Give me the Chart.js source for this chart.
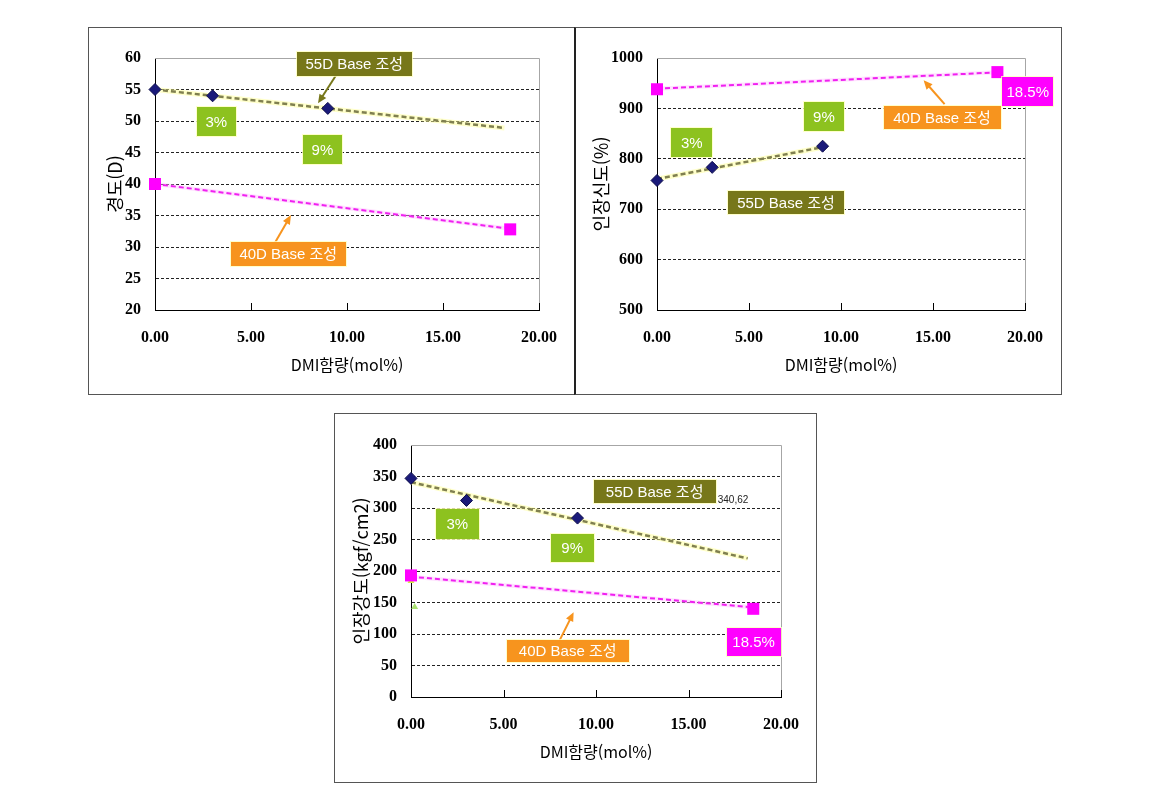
<!DOCTYPE html>
<html lang="ko">
<head>
  <meta charset="UTF-8" />
  <title>DMI 함량에 따른 물성 변화</title>
  <script src="https://cdn.jsdelivr.net/npm/chart.js"></script>
  <style>
    * {
      margin: 0;
      padding: 0;
      box-sizing: border-box;
    }

    body {
      width: 1154px;
      height: 796px;
      background: #fff;
      position: relative;
      overflow: hidden;
    }

    .panel {
      position: absolute;
      border: 1px solid #555;
      background: #fff;
    }

    canvas {
      position: absolute;
    }

    #p1 { left: 88px; top: 27px; width: 487px; height: 368px; }
    #p2 { left: 574px; top: 27px; width: 488px; height: 368px; border-left: 2px solid #222; }
    #p3 { left: 334px; top: 413px; width: 483px; height: 370px; }

    #hardChart { left: 88px; top: 27px; }
    #elongChart { left: 574px; top: 27px; }
    #tensChart { left: 334px; top: 413px; }
  </style>
</head>
<body>
  <div class="panel" id="p1"></div>
  <div class="panel" id="p2"></div>
  <div class="panel" id="p3"></div>

  <canvas id="hardChart" width="487" height="368"></canvas>
  <canvas id="elongChart" width="487" height="368"></canvas>
  <canvas id="tensChart" width="483" height="369"></canvas>

  <script>
    // DMI content (mol%)
    const dmi55 = [0, 3, 9];
    const dmi40 = [0, 18.5];
    const xTicks = [0, 5, 10, 15, 20];

    // hardness (D)
    const hard55 = [55, 54, 52];
    const hard40 = [40, 32.8];
    const hardTrendX = [0, 18.2];
    const hard55Trend = [55, 48.9];
    const hard40Trend = [40, 33];

    // elongation (%)
    const elong55 = [757, 783, 825];
    const elong40 = [938, 972];
    const elong55TrendX = [0, 9];
    const elong55Trend = [760, 823];
    const elong40TrendX = [0, 18.2];
    const elong40Trend = [939, 971];

    // tensile strength (kgf/cm2)
    const tens55 = [347, 312, 284];
    const tens40 = [193, 140];
    const tensTrendX = [0, 18.2];
    const tens55Trend = [341, 220];
    const tens40Trend = [191, 143];
    const tensStrayX = [0, 0.2];
    const tensStray = [184, 143];

    const pts = (xs, ys) => xs.map((v, i) => ({ x: v, y: ys[i] }));

    const OLIVE = '#77771a';
    const LIME = '#8dc21f';
    const ORANGE = '#f7941e';
    const PINK = '#ff00ff';
    const NAVY = '#1a1a7a';

    const labelFont = '15px "Liberation Sans", "Noto Sans CJK KR", sans-serif';
    const pctFont = '15px "Liberation Sans", "Noto Sans CJK KR", sans-serif';

    // frame (top/right grey) and the small inward x ticks
    const framePlugin = {
      id: 'frame',
      beforeDatasetsDraw(chart) {
        const { ctx, chartArea: a, scales: { x } } = chart;
        ctx.save();
        ctx.strokeStyle = '#a6a6a6';
        ctx.lineWidth = 1;
        ctx.beginPath();
        ctx.moveTo(a.left, Math.round(a.top) + 0.5);
        ctx.lineTo(Math.round(a.right) + 0.5, Math.round(a.top) + 0.5);
        ctx.lineTo(Math.round(a.right) + 0.5, a.bottom);
        ctx.stroke();
        ctx.strokeStyle = '#000';
        ctx.beginPath();
        x.ticks.forEach(t => {
          if (t.value === 0) return;
          const px = Math.round(x.getPixelForValue(t.value)) + 0.5;
          ctx.moveTo(px, a.bottom);
          ctx.lineTo(px, a.bottom - 7);
        });
        ctx.stroke();
        ctx.restore();
      }
    };

    // callout boxes, arrows and loose text
    const notesPlugin = {
      id: 'notes',
      afterDraw(chart, args, opts) {
        const { ctx, scales: { x, y } } = chart;
        ctx.save();
        (opts.arrows || []).forEach(r => {
          const x1 = x.getPixelForValue(r.from[0]), y1 = y.getPixelForValue(r.from[1]);
          const x2 = x.getPixelForValue(r.to[0]), y2 = y.getPixelForValue(r.to[1]);
          const ang = Math.atan2(y2 - y1, x2 - x1);
          ctx.strokeStyle = r.color;
          ctx.fillStyle = r.color;
          ctx.lineWidth = 2;
          ctx.beginPath();
          ctx.moveTo(x1, y1);
          ctx.lineTo(x2 - 6 * Math.cos(ang), y2 - 6 * Math.sin(ang));
          ctx.stroke();
          ctx.beginPath();
          ctx.moveTo(x2, y2);
          ctx.lineTo(x2 - 9 * Math.cos(ang) + 4 * Math.sin(ang), y2 - 9 * Math.sin(ang) - 4 * Math.cos(ang));
          ctx.lineTo(x2 - 9 * Math.cos(ang) - 4 * Math.sin(ang), y2 - 9 * Math.sin(ang) + 4 * Math.cos(ang));
          ctx.closePath();
          ctx.fill();
        });
        (opts.boxes || []).forEach(b => {
          const cx = x.getPixelForValue(b.x), cy = y.getPixelForValue(b.y);
          const l = Math.round(cx - b.w / 2), t = Math.round(cy - b.h / 2);
          ctx.fillStyle = 'rgba(255,255,190,0.8)';
          ctx.fillRect(l - 1, t - 1, b.w + 2, b.h + 2);
          ctx.fillStyle = b.bg;
          ctx.fillRect(l, t, b.w, b.h);
          ctx.fillStyle = '#fff';
          ctx.font = b.font;
          ctx.textAlign = 'center';
          ctx.textBaseline = 'middle';
          ctx.fillText(b.text, cx, cy + 1);
        });
        (opts.texts || []).forEach(s => {
          ctx.fillStyle = '#222';
          ctx.font = '10px "Liberation Sans", sans-serif';
          ctx.textAlign = 'left';
          ctx.textBaseline = 'middle';
          ctx.fillText(s.text, x.getPixelForValue(s.x), y.getPixelForValue(s.y));
        });
        ctx.restore();
      }
    };

    function datasets(p55, p40, t55, t40, extra) {
      const list = [
        { data: p55, pointStyle: 'rectRot', pointRadius: 6, backgroundColor: NAVY, borderColor: '#0c0c4a', borderWidth: 1, clip: false },
        { data: p40, pointStyle: 'rect', pointRadius: 8.5, backgroundColor: PINK, borderColor: PINK, borderWidth: 0, clip: false },
        { data: t55, showLine: true, pointRadius: 0, borderColor: '#808050', borderWidth: 2.5, borderDash: [5, 3] },
        { data: t40, showLine: true, pointRadius: 0, borderColor: '#f020f0', borderWidth: 2, borderDash: [5, 3] },
        { data: t55, showLine: true, pointRadius: 0, borderColor: 'rgba(255,255,150,0.5)', borderWidth: 5 },
        { data: t40, showLine: true, pointRadius: 0, borderColor: 'rgba(255,190,255,0.45)', borderWidth: 4 }
      ];
      if (extra) list.splice(2, 0, extra);
      return list;
    }

    function makeChart(id, cfg) {
      return new Chart(document.getElementById(id), {
        type: 'scatter',
        data: { datasets: cfg.datasets },
        options: {
          responsive: false,
          animation: false,
          layout: { padding: { left: 0, top: cfg.top, right: cfg.right, bottom: 0 } },
          plugins: {
            legend: { display: false },
            tooltip: { enabled: false },
            notes: cfg.notes
          },
          scales: {
            x: {
              type: 'linear',
              min: 0,
              max: 20,
              afterBuildTicks: s => { s.ticks = xTicks.map(v => ({ value: v })); },
              afterFit: s => { s.height = cfg.xh; },
              grid: { color: 'rgba(0,0,0,0)', drawTicks: false },
              border: { display: true, color: '#000', width: 1 },
              ticks: {
                padding: 18,
                color: '#000',
                font: { family: '"Liberation Serif", serif', size: 16, weight: 'bold' },
                callback: v => Number(v).toFixed(2)
              },
              title: {
                display: true,
                text: 'DMI함량(mol%)',
                color: '#000',
                padding: { top: 0, bottom: 20 },
                font: { family: '"Noto Sans CJK KR", sans-serif', size: 16 }
              }
            },
            y: {
              min: cfg.ymin,
              max: cfg.ymax,
              afterBuildTicks: s => { s.ticks = cfg.yTicks.map(v => ({ value: v })); },
              afterFit: s => { s.width = cfg.yw; },
              grid: {
                drawTicks: false,
                lineWidth: 1,
                borderDash: [3, 2],
                color: c => (c.tick && (c.tick.value === cfg.ymax || c.tick.value === cfg.ymin)) ? 'rgba(0,0,0,0)' : '#222'
              },
              border: { display: true, color: '#000', width: 1, dash: [3, 2] },
              ticks: {
                padding: 14,
                color: '#000',
                font: { family: '"Liberation Serif", serif', size: 16, weight: 'bold' },
                callback: v => String(v)
              },
              title: {
                display: true,
                text: cfg.ytitle,
                color: '#000',
                padding: { top: 16, bottom: 0 },
                font: { family: '"Noto Sans CJK KR", sans-serif', size: 18 }
              }
            }
          }
        },
        plugins: [framePlugin, notesPlugin]
      });
    }

    const hardTicks = [20, 25, 30, 35, 40, 45, 50, 55, 60];
    const elongTicks = [500, 600, 700, 800, 900, 1000];
    const tensTicks = [0, 50, 100, 150, 200, 250, 300, 350, 400];

    makeChart('hardChart', {
      top: 31, right: 36, xh: 85, yw: 67,
      ymin: 20, ymax: 60, yTicks: hardTicks,
      ytitle: '경도(D)',
      datasets: datasets(pts(dmi55, hard55), pts(dmi40, hard40),
        pts(hardTrendX, hard55Trend), pts(hardTrendX, hard40Trend)),
      notes: {
        arrows: [
          { from: [9.43, 57.26], to: [8.49, 52.8], color: OLIVE },
          { from: [6.24, 30.62], to: [7.08, 35.06], color: ORANGE }
        ],
        boxes: [
          { text: '55D Base 조성', x: 10.38, y: 59.0, w: 115, h: 24, bg: OLIVE, font: labelFont },
          { text: '3%', x: 3.19, y: 49.9, w: 39, h: 29, bg: LIME, font: pctFont },
          { text: '9%', x: 8.72, y: 45.45, w: 39, h: 29, bg: LIME, font: pctFont },
          { text: '40D Base 조성', x: 6.94, y: 28.9, w: 115, h: 24, bg: ORANGE, font: labelFont }
        ]
      }
    });

    makeChart('elongChart', {
      top: 31, right: 35, xh: 85, yw: 83,
      ymin: 500, ymax: 1000, yTicks: elongTicks,
      ytitle: '인장신도(%)',
      datasets: datasets(pts(dmi55, elong55), pts(dmi40, elong40),
        pts(elong55TrendX, elong55Trend), pts(elong40TrendX, elong40Trend)),
      notes: {
        arrows: [
          { from: [15.63, 908.4], to: [14.49, 955.9], color: ORANGE }
        ],
        boxes: [
          { text: '3%', x: 1.89, y: 832, w: 41, h: 29, bg: LIME, font: pctFont },
          { text: '9%', x: 9.07, y: 883.6, w: 40, h: 29, bg: LIME, font: pctFont },
          { text: '55D Base 조성', x: 7.01, y: 713.4, w: 116, h: 23, bg: OLIVE, font: labelFont },
          { text: '40D Base 조성', x: 15.49, y: 881.6, w: 117, h: 23, bg: ORANGE, font: labelFont },
          { text: '18.5%', x: 20.15, y: 933.1, w: 51, h: 29, bg: PINK, font: pctFont }
        ]
      }
    });

    makeChart('tensChart', {
      top: 32, right: 36, xh: 85, yw: 77,
      ymin: 0, ymax: 400, yTicks: tensTicks,
      ytitle: '인장강도(kgf/cm2)',
      datasets: datasets(pts(dmi55, tens55), pts(dmi40, tens40),
        pts(tensTrendX, tens55Trend), pts(tensTrendX, tens40Trend),
        { data: pts(tensStrayX, tensStray), pointStyle: 'triangle', pointRadius: 4,
          backgroundColor: ['#d8ee40', '#a8e070'], borderWidth: 0, clip: false }),
      notes: {
        arrows: [
          { from: [8.04, 90.2], to: [8.79, 134.6], color: ORANGE }
        ],
        boxes: [
          { text: '55D Base 조성', x: 13.17, y: 325.8, w: 122, h: 23, bg: OLIVE, font: labelFont },
          { text: '3%', x: 2.5, y: 274.3, w: 43, h: 30, bg: LIME, font: pctFont },
          { text: '9%', x: 8.71, y: 236.2, w: 43, h: 28, bg: LIME, font: pctFont },
          { text: '40D Base 조성', x: 8.47, y: 72.9, w: 122, h: 22, bg: ORANGE, font: labelFont },
          { text: '18.5%', x: 18.52, y: 87.2, w: 54, h: 28, bg: PINK, font: pctFont }
        ],
        texts: [
          { text: '340,62', x: 16.58, y: 312.3 }
        ]
      }
    });
  </script>
</body>
</html>
